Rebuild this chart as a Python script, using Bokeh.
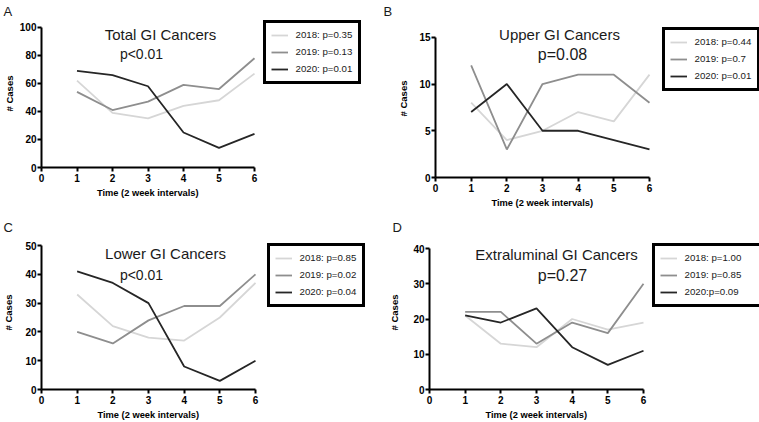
from bokeh.plotting import figure
from bokeh.layouts import column, row
from bokeh.models import Legend, LegendItem, Label, Range1d, Title
from bokeh.embed import file_html
from bokeh.resources import INLINE

# ---------------- data ----------------
intervals = [1, 2, 3, 4, 5, 6]
x_ticks = [0, 1, 2, 3, 4, 5, 6]

total_2018 = [62, 39, 35, 44, 48, 67]
total_2019 = [54, 41, 47, 59, 56, 78]
total_2020 = [69, 66, 58, 25, 14, 24]
total_p = ["2018: p=0.35", "2019: p=0.13", "2020: p=0.01"]

upper_2018 = [8, 4, 5, 7, 6, 11]
upper_2019 = [12, 3, 10, 11, 11, 8]
upper_2020 = [7, 10, 5, 5, 4, 3]
upper_p = ["2018: p=0.44", "2019: p=0.7", "2020: p=0.01"]

lower_2018 = [33, 22, 18, 17, 25, 37]
lower_2019 = [20, 16, 24, 29, 29, 40]
lower_2020 = [41, 37, 30, 8, 3, 10]
lower_p = ["2018: p=0.85", "2019: p=0.02", "2020: p=0.04"]

extra_2018 = [21, 13, 12, 20, 17, 19]
extra_2019 = [22, 22, 13, 19, 16, 30]
extra_2020 = [21, 19, 23, 12, 7, 11]
extra_p = ["2018: p=1.00", "2019: p=0.85", "2020:p=0.09"]

total_ticks = [0, 20, 40, 60, 80, 100]
upper_ticks = [0, 5, 10, 15]
lower_ticks = [0, 10, 20, 30, 40, 50]
extra_ticks = [0, 10, 20, 30, 40]

x_title = "Time (2 week intervals)"
y_title = "# Cases"

colors = ["#d6d6d6", "#8e8e8e", "#262626"]
FONT = "Liberation Sans"
X_TITLE_W = 102   # approx. rendered width of the x title at 9.3px bold


def make_panel(letter, letter_x, title, ptext, series, labels, yticks,
               origin, size, top_border, axes_geom, title_pos, p_pos, p_size,
               leg_lb, label_width, ylab_standoff):
    ox, oy = origin
    fw, fh = size
    fl, ft, fr, fb = axes_geom      # page px of x=0, y=max, x=6, y=0
    ymax = yticks[-1]
    frame_top = oy + top_border
    frame_right = ox + fw
    x_end = 6.0 * (frame_right - fl) / (fr - fl)
    y_end = ymax * (fb - frame_top) / (fb - ft)
    p = figure(width=fw, height=fh, x_range=Range1d(0, x_end), y_range=Range1d(0, y_end),
               output_backend="svg", toolbar_location=None,
               min_border_left=fl - ox, min_border_right=0,
               min_border_top=top_border, min_border_bottom=oy + fh - fb)
    p.outline_line_color = None
    p.xgrid.grid_line_color = None
    p.ygrid.grid_line_color = None
    p.background_fill_color = "white"
    p.border_fill_color = "white"

    p.title.text = letter
    p.title.align = "left"
    p.title.offset = letter_x - fl
    p.title.standoff = 2
    p.title.text_font = FONT
    p.title.text_font_size = "13px"
    p.title.text_font_style = "normal"
    p.title.text_color = "#1a1a1a"

    def dx(ix):
        return (ix - fl) / (fr - fl) * 6.0

    def dy(iy):
        return (fb - iy) / (fb - ft) * ymax

    items = []
    for vals, lab, c in zip(series, labels, colors):
        r = p.line(intervals, vals, line_color=c, line_width=1.8)
        items.append(LegendItem(label=lab, renderers=[r]))

    for ax in (p.xaxis[0], p.yaxis[0]):
        ax.axis_line_width = 2
        ax.axis_line_color = "black"
        ax.major_tick_line_width = 2
        ax.major_tick_line_color = "black"
        ax.major_tick_out = 4
        ax.major_tick_in = 0
        ax.minor_tick_out = 0
        ax.minor_tick_in = 0
        ax.major_label_text_font = FONT
        ax.major_label_text_font_style = "bold"
        ax.major_label_text_font_size = "10px"
        ax.major_label_text_color = "black"
        ax.axis_label_text_font = FONT
        ax.axis_label_text_font_style = "bold"
        ax.axis_label_text_font_size = "9.5px"
        ax.axis_label_text_color = "black"
    p.xaxis.ticker = x_ticks
    p.yaxis.ticker = yticks
    p.xaxis.bounds = (0, 6)
    p.yaxis.bounds = (0, ymax)
    p.yaxis.axis_label = y_title
    p.xaxis.major_label_standoff = 2
    p.yaxis.major_label_standoff = 1
    p.yaxis.axis_label_standoff = ylab_standoff

    # x-axis title centred under the 0..6 axis
    p.add_layout(Title(text=x_title, align="left",
                       offset=(fr - fl) / 2.0 - X_TITLE_W / 2.0, standoff=2,
                       text_font=FONT, text_font_style="bold",
                       text_font_size="9.3px", text_color="black"), "below")

    p.add_layout(Label(x=dx(title_pos[0]), y=dy(title_pos[1]), text=title,
                       text_align="center", text_baseline="alphabetic",
                       text_font=FONT, text_font_size="15px", text_color="#1a1a1a"))
    p.add_layout(Label(x=dx(p_pos[0]), y=dy(p_pos[1]), text=ptext,
                       text_align="center", text_baseline="alphabetic",
                       text_font=FONT, text_font_size=p_size, text_color="#1a1a1a"))

    ll, lb = leg_lb
    legend = Legend(items=items, location=(ll - 1.5 - fl, fb - (lb - 1.5)),
                    border_line_color="black", border_line_width=3,
                    border_line_alpha=1.0,
                    padding=5, spacing=3, margin=0,
                    glyph_width=17, glyph_height=14, label_height=14,
                    label_width=label_width, label_standoff=8,
                    label_text_font=FONT, label_text_font_size="9.7px",
                    label_text_color="#1a1a1a",
                    background_fill_color="white", background_fill_alpha=1)
    p.add_layout(legend)
    return p


pA = make_panel("A", 3, "Total GI Cancers", "p<0.01",
                [total_2018, total_2019, total_2020], total_p, total_ticks,
                (0, 0), (379, 211), 17, (41, 25, 254, 167),
                (160, 32), (141, 52), "14px", (264, 85), 57, 2)
pB = make_panel("B", 383, "Upper GI Cancers", "p=0.08",
                [upper_2018, upper_2019, upper_2020], upper_p, upper_ticks,
                (379, 0), (380, 211), 17, (435, 35, 649, 177),
                (559, 32), (562, 52), "16px", (663, 92), 57, 7)
pC = make_panel("C", 3, "Lower GI Cancers", "p<0.01",
                [lower_2018, lower_2019, lower_2020], lower_p, lower_ticks,
                (0, 211), (379, 211), 24, (41, 245, 255, 389),
                (165, 253), (141, 274), "14px", (268, 308), 57, 8)
pD = make_panel("D", 392, "Extraluminal GI Cancers", "p=0.27",
                [extra_2018, extra_2019, extra_2020], extra_p, extra_ticks,
                (379, 211), (380, 211), 24, (429, 248, 643, 389),
                (556, 254), (562, 275), "16px", (653, 308), 69, 10)

# each plot in its own box so that their frames are placed independently
layout = column(row(column(pA), column(pB)), row(column(pC), column(pD)))

with open("out.html", "w") as f:
    f.write(file_html(layout, INLINE))
